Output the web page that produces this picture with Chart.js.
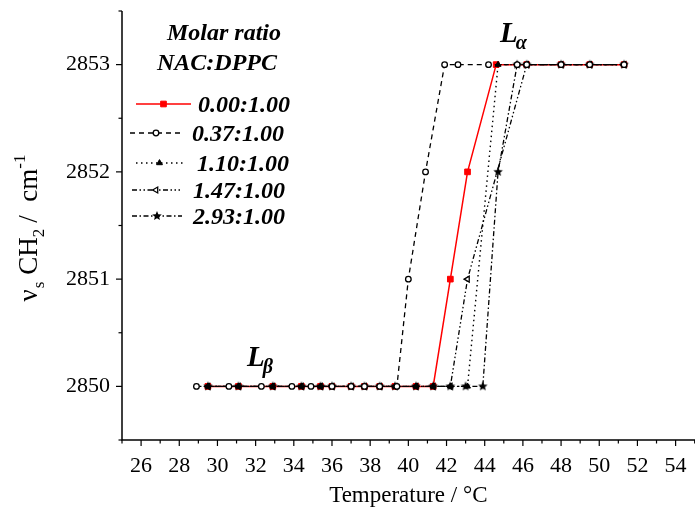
<!DOCTYPE html>
<html>
<head>
<meta charset="utf-8">
<script src="https://cdn.jsdelivr.net/npm/chart.js@4.4.0/dist/chart.umd.min.js"></script>
<style>
html, body { margin: 0; padding: 0; background: #fff; overflow: hidden; }
canvas { display: block; }
</style>
</head>
<body>
<canvas id="chart" width="700" height="514"></canvas>
<script>
// series names (molar ratio NAC:DPPC)
const seriesNames = ['0.00:1.00', '0.37:1.00', '1.10:1.00', '1.47:1.00', '2.93:1.00'];

// temperature (°C) and nu_s CH2 (cm-1)
const temp000 = [29.5, 31.1, 32.9, 34.4, 35.4, 36.0, 37.0, 37.7, 38.5, 39.3, 40.4, 41.3, 42.2, 43.1, 44.6, 46.2, 48.0, 49.5, 51.3];
const nu000   = [2850, 2850, 2850, 2850, 2850, 2850, 2850, 2850, 2850, 2850, 2850, 2850, 2851, 2852, 2853, 2853, 2853, 2853, 2853];

const temp037 = [28.9, 30.6, 32.3, 33.9, 34.9, 36.0, 37.0, 37.7, 38.5, 39.4, 40.0, 40.9, 41.9, 42.6, 44.2, 45.7, 46.2, 48.0, 49.5, 51.3];
const nu037   = [2850, 2850, 2850, 2850, 2850, 2850, 2850, 2850, 2850, 2850, 2851, 2852, 2853, 2853, 2853, 2853, 2853, 2853, 2853, 2853];

const temp110 = [29.5, 31.1, 32.9, 34.4, 35.4, 36.0, 37.0, 37.7, 38.5, 39.3, 40.4, 41.3, 42.2, 43.1, 44.7, 45.7, 46.2, 48.0, 49.5, 51.3];
const nu110   = [2850, 2850, 2850, 2850, 2850, 2850, 2850, 2850, 2850, 2850, 2850, 2850, 2850, 2850, 2853, 2853, 2853, 2853, 2853, 2853];

const temp147 = [29.5, 31.1, 32.9, 34.4, 35.4, 36.0, 37.0, 37.7, 38.5, 39.3, 40.4, 41.3, 42.2, 43.1, 46.2, 48.0, 49.5, 51.3];
const nu147   = [2850, 2850, 2850, 2850, 2850, 2850, 2850, 2850, 2850, 2850, 2850, 2850, 2850, 2851, 2853, 2853, 2853, 2853];

const temp293 = [29.5, 31.1, 32.9, 34.4, 35.4, 36.0, 37.0, 37.7, 38.5, 39.3, 40.4, 41.3, 42.2, 43.0, 43.9, 44.7, 45.7, 46.2, 48.0, 49.5, 51.3];
const nu293   = [2850, 2850, 2850, 2850, 2850, 2850, 2850, 2850, 2850, 2850, 2850, 2850, 2850, 2850, 2850, 2852, 2853, 2853, 2853, 2853, 2853];

const FONT = 'Liberation Serif';

function pts(xs, ys) {
    return xs.map((x, i) => ({ x: x, y: ys[i] }));
}

// filled five point star marker
function makeStar(r) {
    const c = document.createElement('canvas');
    c.width = c.height = r * 2 + 2;
    const g = c.getContext('2d');
    g.fillStyle = '#000';
    g.beginPath();
    for (let i = 0; i < 10; i++) {
        const a = -Math.PI / 2 + i * Math.PI / 5;
        const rr = i % 2 === 0 ? r : r * 0.45;
        g.lineTo(r + 1 + rr * Math.cos(a), r + 1 + rr * Math.sin(a));
    }
    g.closePath();
    g.fill();
    return c;
}
const star = makeStar(5);

const datasets = [
    {
        label: seriesNames[0], data: pts(temp000, nu000),
        borderColor: '#ff0000', backgroundColor: '#ff0000', borderWidth: 1.5,
        pointStyle: 'rect', pointRadius: 4, pointBorderWidth: 1, order: 10
    },
    {
        label: seriesNames[1], data: pts(temp037, nu037),
        borderColor: '#000', backgroundColor: '#fff', borderWidth: 1.3, borderDash: [5, 4],
        pointStyle: 'circle', pointRadius: 2.8, pointBorderWidth: 1.3, order: 1
    },
    {
        label: seriesNames[2], data: pts(temp110, nu110),
        borderColor: '#000', backgroundColor: '#000', borderWidth: 1.4, borderDash: [1.5, 3.5],
        pointStyle: 'triangle', pointRadius: 3.4, pointBorderWidth: 1, order: 2
    },
    {
        label: seriesNames[3], data: pts(temp147, nu147),
        borderColor: '#000', backgroundColor: '#fff', borderWidth: 1.3, borderDash: [5, 2.5, 1.5, 2.5, 1.5, 2.5],
        pointStyle: 'triangle', pointRotation: -90, pointRadius: 3.4, pointBorderWidth: 1.3, order: 3
    },
    {
        label: seriesNames[4], data: pts(temp293, nu293),
        borderColor: '#000', backgroundColor: '#000', borderWidth: 1.3, borderDash: [5, 2.5, 1.5, 2.5],
        pointStyle: star, pointRadius: 4, pointBorderWidth: 1, order: 4
    }
];
datasets.forEach(d => { d.showLine = true; d.tension = 0; });

// axes, minor ticks, legend, phase labels and y title
const decor = {
    id: 'decor',
    afterDraw(chart) {
        const ctx = chart.ctx;
        const xs = chart.scales.x, ys = chart.scales.y;
        const a = chart.chartArea;
        ctx.save();
        ctx.strokeStyle = '#000';
        ctx.lineWidth = 1.5;
        ctx.beginPath();
        ctx.moveTo(a.left, a.top);
        ctx.lineTo(a.left, a.bottom);
        ctx.lineTo(a.right + 5, a.bottom);
        ctx.stroke();
        ctx.lineWidth = 1.2;
        for (let v = 25; v <= 55; v++) {
            const px = xs.getPixelForValue(v);
            const len = v % 2 === 0 ? 6 : 3.5;
            ctx.beginPath();
            ctx.moveTo(px, a.bottom);
            ctx.lineTo(px, a.bottom + len);
            ctx.stroke();
        }
        for (let v = 2849.5; v <= 2853.5; v += 0.5) {
            const py = ys.getPixelForValue(v);
            const len = Number.isInteger(v) ? 6 : 3.5;
            ctx.beginPath();
            ctx.moveTo(a.left - len, py);
            ctx.lineTo(a.left, py);
            ctx.stroke();
        }

        // legend
        ctx.fillStyle = '#000';
        ctx.font = 'italic bold 24px "' + FONT + '"';
        ctx.textAlign = 'center';
        ctx.textBaseline = 'alphabetic';
        ctx.fillText('Molar ratio', 224, 40);
        ctx.fillText('NAC:DPPC', 217, 70);
        const rows = [
            { x1: 136, x2: 191, y: 104, tx: 198 },
            { x1: 130, x2: 182, y: 133, tx: 192 },
            { x1: 136, x2: 183, y: 163, tx: 197 },
            { x1: 132, x2: 180, y: 190, tx: 193 },
            { x1: 132, x2: 182, y: 216, tx: 193 }
        ];
        chart.data.datasets.forEach((d, i) => {
            const r = rows[i];
            ctx.save();
            ctx.strokeStyle = d.borderColor;
            ctx.lineWidth = d.borderWidth;
            ctx.setLineDash(d.borderDash || []);
            ctx.beginPath();
            ctx.moveTo(r.x1, r.y);
            ctx.lineTo(r.x2, r.y);
            ctx.stroke();
            ctx.setLineDash([]);
            ctx.fillStyle = d.backgroundColor;
            ctx.strokeStyle = d.borderColor;
            ctx.lineWidth = d.pointBorderWidth;
            Chart.helpers.drawPoint(ctx, {
                pointStyle: d.pointStyle, radius: d.pointRadius,
                rotation: d.pointRotation || 0, borderWidth: d.pointBorderWidth
            }, (r.x1 + r.x2) / 2, r.y);
            ctx.restore();
            ctx.fillStyle = '#000';
            ctx.textAlign = 'left';
            ctx.fillText(d.label, r.tx, r.y + 8);
        });

        // phase labels
        function phase(sub, x, y) {
            ctx.textAlign = 'left';
            ctx.font = 'italic bold 29px "' + FONT + '"';
            ctx.fillText('L', x, y);
            const w = ctx.measureText('L').width;
            ctx.font = 'italic bold 20px "' + FONT + '"';
            ctx.fillText(sub, x + w - 2, y + 7);
        }
        phase('\u03b2', xs.getPixelForValue(31.55), ys.getPixelForValue(2850) - 20);
        phase('\u03b1', xs.getPixelForValue(44.8), ys.getPixelForValue(2853) - 23);

        // y axis title with sub/superscripts
        const parts = [
            ['\u03bd', 0, 1, 1], ['s', 7, 0.62, 7], ['CH', 0, 1, 0], ['2', 7, 0.62, 6],
            ['/  cm', 0, 1, 0], ['-1', -12, 0.62, 0]
        ];
        const size = 27;
        let total = 0;
        parts.forEach(p => {
            ctx.font = Math.round(size * p[2]) + 'px "' + FONT + '"';
            total += ctx.measureText(p[0]).width + p[3];
        });
        ctx.translate(37, 228);
        ctx.rotate(-Math.PI / 2);
        let cx = -total / 2;
        parts.forEach(p => {
            ctx.font = Math.round(size * p[2]) + 'px "' + FONT + '"';
            ctx.fillText(p[0], cx, p[1]);
            cx += ctx.measureText(p[0]).width + p[3];
        });
        ctx.restore();
    }
};

new Chart(document.getElementById('chart'), {
    type: 'scatter',
    data: { datasets: datasets },
    options: {
        responsive: false,
        animation: false,
        layout: { padding: { top: 11, right: 2, left: 0, bottom: 0 } },
        plugins: { legend: { display: false }, tooltip: { enabled: false } },
        scales: {
            x: {
                type: 'linear', min: 25, max: 55,
                afterFit: s => { s.height = 74; s.paddingLeft = 0; s.paddingRight = 0; },
                grid: { display: false, drawTicks: false },
                border: { display: false },
                ticks: {
                    stepSize: 1, autoSkip: false, maxRotation: 0, padding: 13, color: '#000',
                    font: { family: FONT, size: 22 },
                    callback: v => (v % 2 === 0 && v < 55) ? v : ''
                },
                title: {
                    display: true, text: 'Temperature / °C', color: '#000',
                    font: { family: FONT, size: 23 }, padding: { top: 0, bottom: 4 }
                }
            },
            y: {
                type: 'linear', min: 2849.5, max: 2853.5,
                afterFit: s => { s.width = 122; s.paddingTop = 0; s.paddingBottom = 0; },
                grid: { display: false, drawTicks: false },
                border: { display: false },
                ticks: {
                    stepSize: 0.5, autoSkip: false, padding: 12, color: '#000',
                    font: { family: FONT, size: 22 },
                    callback: v => Number.isInteger(v) ? v : ''
                }
            }
        }
    },
    plugins: [decor]
});
</script>
</body>
</html>
